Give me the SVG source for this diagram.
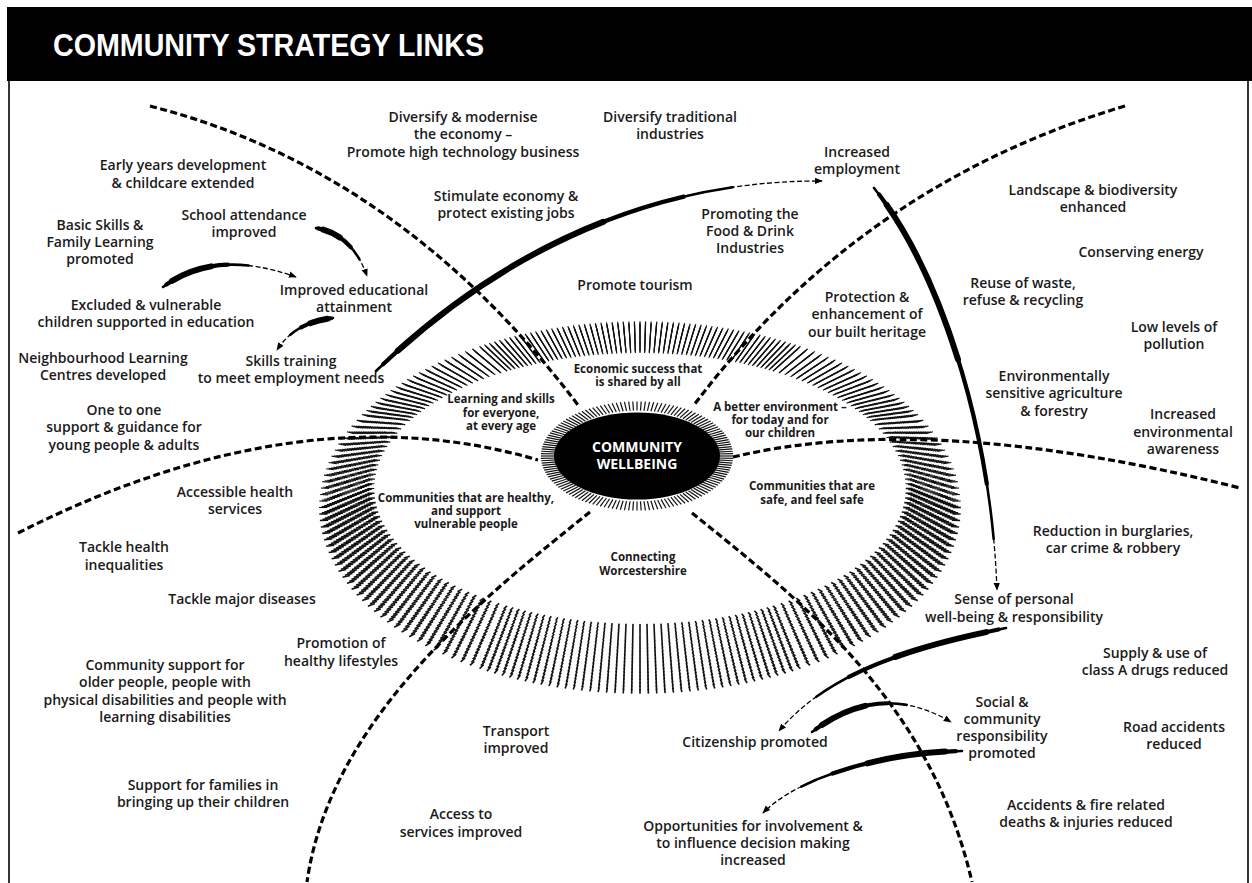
<svg xmlns="http://www.w3.org/2000/svg" width="1252" height="883" viewBox="0 0 1252 883">
  <style>
    .t { font-family: "Open Sans", "Liberation Sans", sans-serif; font-size: 14px; font-weight: 600; fill: #1a1a1a; text-anchor: middle; }
    .s { font-family: "Open Sans", "Liberation Sans", sans-serif; font-size: 11.5px; font-weight: 700; fill: #1a1a1a; text-anchor: middle; }
    .c { font-family: "Open Sans", "Liberation Sans", sans-serif; font-size: 14px; font-weight: 700; fill: #ffffff; text-anchor: middle; }
    .title { font-family: "Liberation Sans", Arial, sans-serif; font-size: 31px; font-weight: 700; fill: #ffffff; }
    .dl { fill: none; stroke: #000; stroke-width: 3.2; stroke-dasharray: 7 3.5; }
    .tail { fill: none; stroke: #000; stroke-width: 1.3; stroke-dasharray: 5 2.5; }
    .k2, .k3, .k4 { fill: none; stroke: #000; stroke-linecap: round; }
    .k2 { stroke-width: 2.6; }
    .k3 { stroke-width: 4.2; }
    .k4 { stroke-width: 6; }
    .hatch { stroke: #111; fill: none; }
  </style>
  <defs>
    <marker id="ah" viewBox="0 0 10 10" refX="9" refY="5" markerWidth="8" markerHeight="8" markerUnits="userSpaceOnUse" orient="auto">
      <path d="M0,1 L10,5 L0,9 z" fill="#000"/>
    </marker>

    <!-- one radial tick segment of the ring, in unit-circle space (r = 100) -->
    <line id="tk" x1="98.7" y1="0" x2="101.3" y2="0" vector-effect="non-scaling-stroke"/>
    <!-- tick runs at 1, 1.5 and 2 degree spacing -->
    <g id="a10"><use href="#tk"/><use href="#tk" transform="rotate(1)"/><use href="#tk" transform="rotate(2)"/><use href="#tk" transform="rotate(3)"/><use href="#tk" transform="rotate(4)"/><use href="#tk" transform="rotate(5)"/><use href="#tk" transform="rotate(6)"/><use href="#tk" transform="rotate(7)"/><use href="#tk" transform="rotate(8)"/><use href="#tk" transform="rotate(9)"/></g>
    <g id="b5"><use href="#tk"/><use href="#tk" transform="rotate(1.5)"/><use href="#tk" transform="rotate(3)"/><use href="#tk" transform="rotate(4.5)"/><use href="#tk" transform="rotate(6)"/></g>
    <g id="c5"><use href="#tk"/><use href="#tk" transform="rotate(2)"/><use href="#tk" transform="rotate(4)"/><use href="#tk" transform="rotate(6)"/><use href="#tk" transform="rotate(8)"/></g>
    <!-- upper half: finer towards the top -->
    <g id="upper">
      <use href="#c5" transform="rotate(180)"/><use href="#c5" transform="rotate(190)"/><use href="#c5" transform="rotate(200)"/>
      <use href="#b5" transform="rotate(210)"/><use href="#b5" transform="rotate(217.5)"/><use href="#b5" transform="rotate(225)"/><use href="#b5" transform="rotate(232.5)"/>
      <use href="#a10" transform="rotate(240)"/><use href="#a10" transform="rotate(250)"/><use href="#a10" transform="rotate(260)"/><use href="#a10" transform="rotate(270)"/><use href="#a10" transform="rotate(280)"/><use href="#a10" transform="rotate(290)"/>
      <use href="#b5" transform="rotate(300)"/><use href="#b5" transform="rotate(307.5)"/><use href="#b5" transform="rotate(315)"/><use href="#b5" transform="rotate(322.5)"/>
      <use href="#c5" transform="rotate(330)"/><use href="#c5" transform="rotate(340)"/><use href="#c5" transform="rotate(350)"/>
    </g>
    <!-- lower half -->
    <g id="lower">
      <use href="#c5"/><use href="#c5" transform="rotate(10)"/><use href="#c5" transform="rotate(20)"/><use href="#c5" transform="rotate(30)"/><use href="#c5" transform="rotate(40)"/><use href="#c5" transform="rotate(50)"/>
      <use href="#b5" transform="rotate(60)"/><use href="#b5" transform="rotate(67.5)"/><use href="#b5" transform="rotate(75)"/><use href="#b5" transform="rotate(82.5)"/><use href="#b5" transform="rotate(90)"/><use href="#b5" transform="rotate(97.5)"/><use href="#b5" transform="rotate(105)"/><use href="#b5" transform="rotate(112.5)"/>
      <use href="#c5" transform="rotate(120)"/><use href="#c5" transform="rotate(130)"/><use href="#c5" transform="rotate(140)"/><use href="#c5" transform="rotate(150)"/><use href="#c5" transform="rotate(160)"/><use href="#c5" transform="rotate(170)"/>
    </g>
    <g id="band"><use href="#upper" stroke-width="1.15"/><use href="#lower" stroke-width="1.6"/></g>

    <!-- hub ticks: 2.5 degree steps -->
    <line id="hk" x1="90" y1="0" x2="108" y2="0" vector-effect="non-scaling-stroke"/>
    <g id="h4"><use href="#hk"/><use href="#hk" transform="rotate(2.5)"/><use href="#hk" transform="rotate(5)"/><use href="#hk" transform="rotate(7.5)"/></g>
    <g id="h16"><use href="#h4"/><use href="#h4" transform="rotate(10)"/><use href="#h4" transform="rotate(20)"/><use href="#h4" transform="rotate(30)"/></g>
    <g id="hfan"><use href="#h16"/><use href="#h16" transform="rotate(40)"/><use href="#h16" transform="rotate(80)"/><use href="#h16" transform="rotate(120)"/><use href="#h16" transform="rotate(160)"/><use href="#h16" transform="rotate(200)"/><use href="#h16" transform="rotate(240)"/><use href="#h16" transform="rotate(280)"/><use href="#h16" transform="rotate(320)"/></g>
  </defs>

  <rect width="1252" height="883" fill="#fff"/>

  <!-- header bar and frame -->
  <g id="header">
    <rect x="7" y="7" width="1245" height="74" fill="#000"/>
    <text class="title" x="53" y="56" textLength="431" lengthAdjust="spacingAndGlyphs">COMMUNITY STRATEGY LINKS</text>
  </g>
  <g id="frame" stroke="#000" stroke-width="1.6">
    <line x1="9" y1="81" x2="9" y2="883"/>
    <line x1="1248" y1="81" x2="1248" y2="883"/>
  </g>

  <!-- hatched ring: twenty thin concentric bands, thicker towards the bottom -->
  <g id="outer-ring" class="hatch">
    <use href="#band" transform="matrix(2.6925,0,0,1.37225,640,488.5)"/>
    <use href="#band" transform="matrix(2.7175,0,0,1.39675,640,489.5)"/>
    <use href="#band" transform="matrix(2.7425,0,0,1.42125,640,490.5)"/>
    <use href="#band" transform="matrix(2.7675,0,0,1.44575,640,491.5)"/>
    <use href="#band" transform="matrix(2.7925,0,0,1.47025,640,492.5)"/>
    <use href="#band" transform="matrix(2.8175,0,0,1.49475,640,493.5)"/>
    <use href="#band" transform="matrix(2.8425,0,0,1.51925,640,494.5)"/>
    <use href="#band" transform="matrix(2.8675,0,0,1.54375,640,495.5)"/>
    <use href="#band" transform="matrix(2.8925,0,0,1.56825,640,496.5)"/>
    <use href="#band" transform="matrix(2.9175,0,0,1.59275,640,497.5)"/>
    <use href="#band" transform="matrix(2.9425,0,0,1.61725,640,498.5)"/>
    <use href="#band" transform="matrix(2.9675,0,0,1.64175,640,499.5)"/>
    <use href="#band" transform="matrix(2.9925,0,0,1.66625,640,500.5)"/>
    <use href="#band" transform="matrix(3.0175,0,0,1.69075,640,501.5)"/>
    <use href="#band" transform="matrix(3.0425,0,0,1.71525,640,502.5)"/>
    <use href="#band" transform="matrix(3.0675,0,0,1.73975,640,503.5)"/>
    <use href="#band" transform="matrix(3.0925,0,0,1.76425,640,504.5)"/>
    <use href="#band" transform="matrix(3.1175,0,0,1.78875,640,505.5)"/>
    <use href="#band" transform="matrix(3.1425,0,0,1.81325,640,506.5)"/>
    <use href="#band" transform="matrix(3.1675,0,0,1.83775,640,507.5)"/>
  </g>

  <!-- dashed sector boundaries -->
  <g id="connectors">
    <path class="dl" d="M150,106 Q400,170 578,405"/>
    <path class="dl" d="M1125,106 Q860,185 694,405"/>
    <path class="dl" d="M18,533 Q300,390 538,460"/>
    <path class="dl" d="M733,457 Q930,410 1240,488"/>
    <path class="dl" d="M590,512 C480,600 330,720 307,882"/>
    <path class="dl" d="M692,513 C800,600 930,700 972,882"/>

    <!-- brush-stroke arrows -->
    <g id="arrow-attendance">
      <path class="tail" d="M316,228 Q352,234 367,276" marker-end="url(#ah)"/>
      <path class="k2" d="M316,228 Q352,234 367,276" pathLength="100" stroke-dasharray="75 300"/>
      <path class="k3" d="M316,228 Q352,234 367,276" pathLength="100" stroke-dasharray="52 300" stroke-dashoffset="-3"/>
      <path class="k4" d="M316,228 Q352,234 367,276" pathLength="100" stroke-dasharray="25 300" stroke-dashoffset="-10"/>
    </g>
    <g id="arrow-excluded">
      <path class="tail" d="M163,287 Q215,248 296,277" marker-end="url(#ah)"/>
      <path class="k2" d="M163,287 Q215,248 296,277" pathLength="100" stroke-dasharray="65 300"/>
      <path class="k3" d="M163,287 Q215,248 296,277" pathLength="100" stroke-dasharray="47 300" stroke-dashoffset="-3"/>
      <path class="k4" d="M163,287 Q215,248 296,277" pathLength="100" stroke-dasharray="30 300" stroke-dashoffset="-8"/>
    </g>
    <g id="arrow-attainment">
      <path class="tail" d="M333,318 Q295,322 277,350" marker-end="url(#ah)"/>
      <path class="k2" d="M333,318 Q295,322 277,350" pathLength="100" stroke-dasharray="70 300"/>
      <path class="k3" d="M333,318 Q295,322 277,350" pathLength="100" stroke-dasharray="47 300" stroke-dashoffset="-3"/>
      <path class="k4" d="M333,318 Q295,322 277,350" pathLength="100" stroke-dasharray="27 300" stroke-dashoffset="-8"/>
    </g>
    <g id="arrow-skills">
      <path class="tail" d="M376,371 C470,280 620,180 822,181" marker-end="url(#ah)"/>
      <path class="k2" d="M376,371 C470,280 620,180 822,181" pathLength="100" stroke-dasharray="82 300"/>
      <path class="k3" d="M376,371 C470,280 620,180 822,181" pathLength="100" stroke-dasharray="70 300" stroke-dashoffset="-2"/>
      <path class="k4" d="M376,371 C470,280 620,180 822,181" pathLength="100" stroke-dasharray="49 300" stroke-dashoffset="-6"/>
    </g>
    <g id="arrow-employment">
      <path class="tail" d="M874,188 C925,250 990,400 997,590" marker-end="url(#ah)"/>
      <path class="k2" d="M874,188 C925,250 990,400 997,590" pathLength="100" stroke-dasharray="88 300"/>
      <path class="k3" d="M874,188 C925,250 990,400 997,590" pathLength="100" stroke-dasharray="73 300" stroke-dashoffset="-2"/>
      <path class="k4" d="M874,188 C925,250 990,400 997,590" pathLength="100" stroke-dasharray="40 300" stroke-dashoffset="-5"/>
    </g>
    <g id="arrow-wellbeing">
      <path class="tail" d="M1006,628 C920,645 830,670 779,731" marker-end="url(#ah)"/>
      <path class="k2" d="M1006,628 C920,645 830,670 779,731" pathLength="100" stroke-dasharray="80 300"/>
      <path class="k3" d="M1006,628 C920,645 830,670 779,731" pathLength="100" stroke-dasharray="62 300" stroke-dashoffset="-3"/>
      <path class="k4" d="M1006,628 C920,645 830,670 779,731" pathLength="100" stroke-dasharray="37 300" stroke-dashoffset="-8"/>
    </g>
    <g id="arrow-citizenship">
      <path class="tail" d="M812,732 Q880,680 951,722" marker-end="url(#ah)"/>
      <path class="k2" d="M812,732 Q880,680 951,722" pathLength="100" stroke-dasharray="68 300"/>
      <path class="k3" d="M812,732 Q880,680 951,722" pathLength="100" stroke-dasharray="52 300" stroke-dashoffset="-3"/>
      <path class="k4" d="M812,732 Q880,680 951,722" pathLength="100" stroke-dasharray="32 300" stroke-dashoffset="-8"/>
    </g>
    <g id="arrow-social">
      <path class="tail" d="M962,751 C890,752 800,775 763,813" marker-end="url(#ah)"/>
      <path class="k2" d="M962,751 C890,752 800,775 763,813" pathLength="100" stroke-dasharray="78 300"/>
      <path class="k3" d="M962,751 C890,752 800,775 763,813" pathLength="100" stroke-dasharray="59 300" stroke-dashoffset="-3"/>
      <path class="k4" d="M962,751 C890,752 800,775 763,813" pathLength="100" stroke-dasharray="37 300" stroke-dashoffset="-8"/>
    </g>
  </g>

  <!-- central hub -->
  <g id="hub">
    <use href="#hfan" class="hatch" stroke-width="1.2" transform="matrix(0.89,0,0,0.505,637,456)"/>
    <ellipse cx="637" cy="456" rx="83" ry="43.5" fill="#000"/>
    <text class="c" x="637" y="452">COMMUNITY</text>
    <text class="c" x="637" y="469">WELLBEING</text>
  </g>

  <!-- themes inside the ring -->
  <g id="theme-economy"><text class="s" x="638" y="373">Economic success that</text><text class="s" x="638" y="386">is shared by all</text></g>
  <g id="theme-learning"><text class="s" x="501" y="403">Learning and skills</text><text class="s" x="501" y="417">for everyone,</text><text class="s" x="501" y="430">at every age</text></g>
  <g id="theme-environment"><text class="s" x="780" y="411">A better environment –</text><text class="s" x="780" y="424">for today and for</text><text class="s" x="780" y="437">our children</text></g>
  <g id="theme-health"><text class="s" x="466" y="502">Communities that are healthy,</text><text class="s" x="466" y="515">and support</text><text class="s" x="466" y="528">vulnerable people</text></g>
  <g id="theme-safety"><text class="s" x="812" y="490">Communities that are</text><text class="s" x="812" y="504">safe, and feel safe</text></g>
  <g id="theme-connecting"><text class="s" x="643" y="561">Connecting</text><text class="s" x="643" y="575">Worcestershire</text></g>

  <!-- learning sector -->
  <g id="early-years"><text class="t" x="183" y="170">Early years development</text><text class="t" x="183" y="188">&amp; childcare extended</text></g>
  <g id="basic-skills"><text class="t" x="100" y="230">Basic Skills &amp;</text><text class="t" x="100" y="247">Family Learning</text><text class="t" x="100" y="264">promoted</text></g>
  <g id="school-attendance"><text class="t" x="244" y="220">School attendance</text><text class="t" x="244" y="237">improved</text></g>
  <g id="attainment"><text class="t" x="354" y="295">Improved educational</text><text class="t" x="354" y="312">attainment</text></g>
  <g id="excluded"><text class="t" x="146" y="310">Excluded &amp; vulnerable</text><text class="t" x="146" y="327">children supported in education</text></g>
  <g id="nlc"><text class="t" x="103" y="363">Neighbourhood Learning</text><text class="t" x="103" y="380">Centres developed</text></g>
  <g id="skills-training"><text class="t" x="291" y="366">Skills training</text><text class="t" x="291" y="383">to meet employment needs</text></g>
  <g id="one-to-one"><text class="t" x="124" y="415">One to one</text><text class="t" x="124" y="432">support &amp; guidance for</text><text class="t" x="124" y="450">young people &amp; adults</text></g>

  <!-- economy sector -->
  <g id="diversify-modernise"><text class="t" x="463" y="122">Diversify &amp; modernise</text><text class="t" x="463" y="139">the economy –</text><text class="t" x="463" y="157">Promote high technology business</text></g>
  <g id="diversify-traditional"><text class="t" x="670" y="122">Diversify traditional</text><text class="t" x="670" y="139">industries</text></g>
  <g id="stimulate"><text class="t" x="506" y="201">Stimulate economy &amp;</text><text class="t" x="506" y="218">protect existing jobs</text></g>
  <g id="food-drink"><text class="t" x="750" y="219">Promoting the</text><text class="t" x="750" y="236">Food &amp; Drink</text><text class="t" x="750" y="253">Industries</text></g>
  <g id="tourism"><text class="t" x="635" y="290">Promote tourism</text></g>
  <g id="employment"><text class="t" x="857" y="157">Increased</text><text class="t" x="857" y="174">employment</text></g>

  <!-- environment sector -->
  <g id="landscape"><text class="t" x="1093" y="195">Landscape &amp; biodiversity</text><text class="t" x="1093" y="212">enhanced</text></g>
  <g id="energy"><text class="t" x="1141" y="257">Conserving energy</text></g>
  <g id="waste"><text class="t" x="1023" y="288">Reuse of waste,</text><text class="t" x="1023" y="305">refuse &amp; recycling</text></g>
  <g id="heritage"><text class="t" x="867" y="302">Protection &amp;</text><text class="t" x="867" y="319">enhancement of</text><text class="t" x="867" y="337">our built heritage</text></g>
  <g id="pollution"><text class="t" x="1174" y="332">Low levels of</text><text class="t" x="1174" y="349">pollution</text></g>
  <g id="agriculture"><text class="t" x="1054" y="381">Environmentally</text><text class="t" x="1054" y="398">sensitive agriculture</text><text class="t" x="1054" y="416">&amp; forestry</text></g>
  <g id="awareness"><text class="t" x="1183" y="419">Increased</text><text class="t" x="1183" y="437">environmental</text><text class="t" x="1183" y="454">awareness</text></g>

  <!-- safety sector -->
  <g id="burglaries"><text class="t" x="1113" y="536">Reduction in burglaries,</text><text class="t" x="1113" y="553">car crime &amp; robbery</text></g>
  <g id="wellbeing"><text class="t" x="1014" y="604">Sense of personal</text><text class="t" x="1014" y="622">well-being &amp; responsibility</text></g>
  <g id="drugs"><text class="t" x="1155" y="658">Supply &amp; use of</text><text class="t" x="1155" y="675">class A drugs reduced</text></g>
  <g id="social"><text class="t" x="1002" y="707">Social &amp;</text><text class="t" x="1002" y="724">community</text><text class="t" x="1002" y="741">responsibility</text><text class="t" x="1002" y="758">promoted</text></g>
  <g id="citizenship"><text class="t" x="755" y="747">Citizenship promoted</text></g>
  <g id="road"><text class="t" x="1174" y="732">Road accidents</text><text class="t" x="1174" y="749">reduced</text></g>
  <g id="fire"><text class="t" x="1086" y="810">Accidents &amp; fire related</text><text class="t" x="1086" y="827">deaths &amp; injuries reduced</text></g>
  <g id="involvement"><text class="t" x="753" y="831">Opportunities for involvement &amp;</text><text class="t" x="753" y="848">to influence decision making</text><text class="t" x="753" y="865">increased</text></g>

  <!-- connecting sector -->
  <g id="transport"><text class="t" x="516" y="736">Transport</text><text class="t" x="516" y="753">improved</text></g>
  <g id="access"><text class="t" x="461" y="819">Access to</text><text class="t" x="461" y="837">services improved</text></g>

  <!-- health sector -->
  <g id="health-services"><text class="t" x="235" y="497">Accessible health</text><text class="t" x="235" y="514">services</text></g>
  <g id="inequalities"><text class="t" x="124" y="552">Tackle health</text><text class="t" x="124" y="570">inequalities</text></g>
  <g id="diseases"><text class="t" x="242" y="604">Tackle major diseases</text></g>
  <g id="lifestyles"><text class="t" x="341" y="648">Promotion of</text><text class="t" x="341" y="666">healthy lifestyles</text></g>
  <g id="older-people"><text class="t" x="165" y="670">Community support for</text><text class="t" x="165" y="687">older people, people with</text><text class="t" x="165" y="705">physical disabilities and people with</text><text class="t" x="165" y="722">learning disabilities</text></g>
  <g id="families"><text class="t" x="203" y="790">Support for families in</text><text class="t" x="203" y="807">bringing up their children</text></g>
</svg>
